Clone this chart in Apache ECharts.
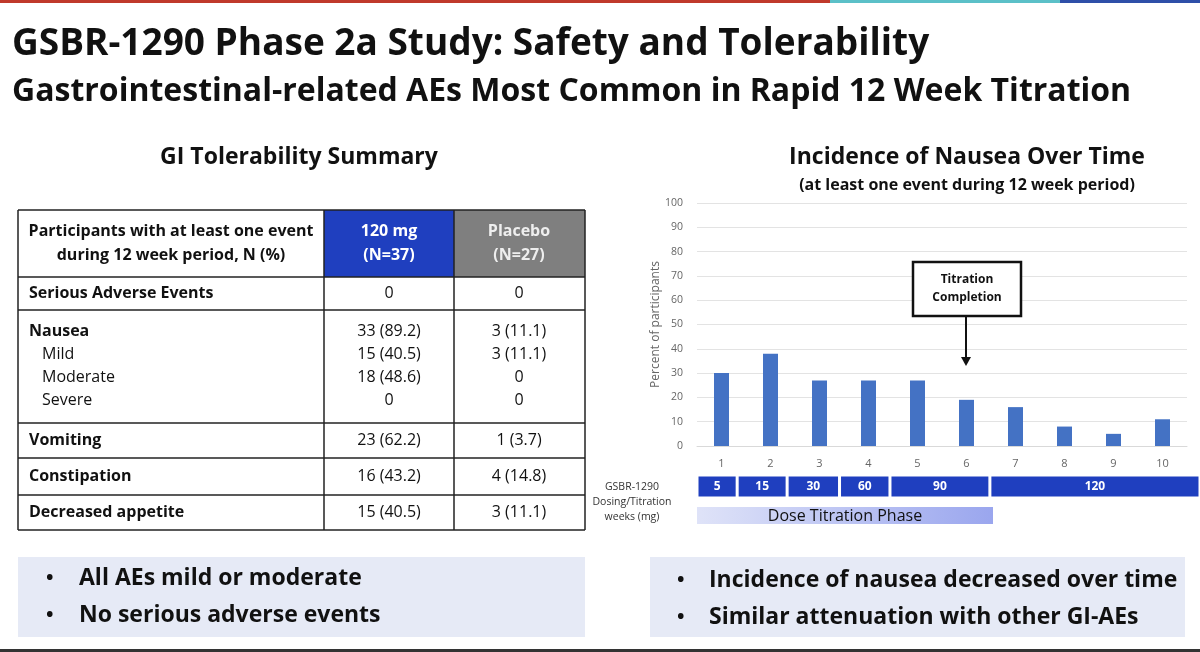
<!DOCTYPE html>
<html><head><meta charset="utf-8">
<script src="https://cdn.jsdelivr.net/npm/echarts@6/dist/echarts.min.js"></script>
<style>html,body{margin:0;padding:0;background:#fff}#c{width:1200px;height:652px}</style>
</head><body><div id="c"></div>
<script>
const weeks = ['1','2','3','4','5','6','7','8','9','10'];
const nauseaPct = [30, 38, 27, 27, 27, 19, 16, 8, 5, 11];
const yTicks = [0,10,20,30,40,50,60,70,80,90,100];
const doseLabels = ['5','15','30','60','90','120'];
const doseWeeks = [0.82, 1.02, 1.07, 1.03, 2.04, 4.29];
const tableHeader = ['Participants with at least one event\nduring 12 week period, N (%)', '120 mg\n(N=37)', 'Placebo\n(N=27)'];
const tableRows = [
  {label:'Serious Adverse Events', bold:true, a:'0', p:'0'},
  {label:'Nausea', bold:true, a:'33 (89.2)', p:'3 (11.1)'},
  {label:'Mild', bold:false, a:'15 (40.5)', p:'3 (11.1)'},
  {label:'Moderate', bold:false, a:'18 (48.6)', p:'0'},
  {label:'Severe', bold:false, a:'0', p:'0'},
  {label:'Vomiting', bold:true, a:'23 (62.2)', p:'1 (3.7)'},
  {label:'Constipation', bold:true, a:'16 (43.2)', p:'4 (14.8)'},
  {label:'Decreased appetite', bold:true, a:'15 (40.5)', p:'3 (11.1)'}
];
const leftBullets = ['All AEs mild or moderate', 'No serious adverse events'];
const rightBullets = ['Incidence of nausea decreased over time', 'Similar attenuation with other GI-AEs'];

const F = '"Open Sans", Lato, sans-serif';
const chart = echarts.init(document.getElementById('c'));
const g = [];
g.push({type:'rect',shape:{x:0,y:0,width:830,height:3},style:{fill:'#c0392b'}});
g.push({type:'rect',shape:{x:830,y:0,width:230,height:3},style:{fill:'#5bc0c8'}});
g.push({type:'rect',shape:{x:1060,y:0,width:140,height:3},style:{fill:'#2f4fa8'}});
g.push({type:'rect',shape:{x:0,y:649,width:1200,height:3},style:{fill:'#333'}});
g.push({type:'text',x:12,y:26,style:{text:'GSBR-1290 Phase 2a Study: Safety and Tolerability',font:'bold 37px '+F,fill:'#111'}});
g.push({type:'text',x:12,y:76,style:{text:'Gastrointestinal-related AEs Most Common in Rapid 12 Week Titration',font:'bold 32px '+F,fill:'#111'}});
g.push({type:'text',x:299,y:157,style:{text:'GI Tolerability Summary',font:'bold 23px '+F,fill:'#111',align:'center',verticalAlign:'middle'}});
g.push({type:'text',x:967,y:157,style:{text:'Incidence of Nausea Over Time',font:'bold 23px '+F,fill:'#111',align:'center',verticalAlign:'middle'}});
g.push({type:'text',x:967,y:185,style:{text:'(at least one event during 12 week period)',font:'bold 16px '+F,fill:'#111',align:'center',verticalAlign:'middle'}});
const cx=[18,324,454,585];
const ry=[210,277,310,423,458,495,530];
g.push({type:'rect',shape:{x:324,y:210,width:130,height:67},style:{fill:'#1f3fbf'}});
g.push({type:'rect',shape:{x:454,y:210,width:131,height:67},style:{fill:'#7f7f7f'}});
ry.forEach(y=>g.push({type:'line',shape:{x1:18,y1:y,x2:585,y2:y},style:{stroke:'#222',lineWidth:1.5}}));
cx.forEach(x=>g.push({type:'line',shape:{x1:x,y1:210,x2:x,y2:530},style:{stroke:'#222',lineWidth:1.5}}));
g.push({type:'text',x:171,y:243,style:{text:tableHeader[0],font:'bold 16px '+F,fill:'#111',align:'center',verticalAlign:'middle',lineHeight:24}});
g.push({type:'text',x:389,y:243,style:{text:tableHeader[1],font:'bold 16px '+F,fill:'#fff',align:'center',verticalAlign:'middle',lineHeight:24}});
g.push({type:'text',x:519,y:243,style:{text:tableHeader[2],font:'bold 16px '+F,fill:'#eee',align:'center',verticalAlign:'middle',lineHeight:24}});
const rowY=[293,331,354,377,400,440,476,512];
tableRows.forEach((r,i)=>{
  const ind = (i>=2&&i<=4);
  g.push({type:'text',x:ind?42:29,y:rowY[i],style:{text:r.label,font:(r.bold?'bold ':'')+'16px '+F,fill:'#111',verticalAlign:'middle'}});
  g.push({type:'text',x:389,y:rowY[i],style:{text:r.a,font:'16px '+F,fill:'#111',align:'center',verticalAlign:'middle'}});
  g.push({type:'text',x:519,y:rowY[i],style:{text:r.p,font:'16px '+F,fill:'#111',align:'center',verticalAlign:'middle'}});
});
g.push({type:'rect',shape:{x:18,y:557,width:567,height:80},style:{fill:'#e6eaf6'}});
g.push({type:'rect',shape:{x:650,y:557,width:535,height:80},style:{fill:'#e6eaf6'}});
leftBullets.forEach((t,i)=>{
  g.push({type:'text',x:46,y:578+i*37,style:{text:'•',font:'bold 20px '+F,fill:'#111',verticalAlign:'middle'}});
  g.push({type:'text',x:79,y:578+i*37,style:{text:t,font:'bold 23px '+F,fill:'#111',verticalAlign:'middle'}});
});
rightBullets.forEach((t,i)=>{
  g.push({type:'text',x:677,y:580+i*37,style:{text:'•',font:'bold 20px '+F,fill:'#111',verticalAlign:'middle'}});
  g.push({type:'text',x:709,y:580+i*37,style:{text:t,font:'bold 23px '+F,fill:'#111',verticalAlign:'middle'}});
});
['GSBR-1290','Dosing/Titration','weeks (mg)'].forEach((t,i)=>g.push({type:'text',x:632,y:487+i*15,style:{text:t,font:'10.5px '+F,fill:'#333',align:'center',verticalAlign:'middle'}}));
g.push({type:'rect',shape:{x:697,y:507,width:296,height:17},style:{fill:new echarts.graphic.LinearGradient(0,0,1,0,[{offset:0,color:'#dfe3f8'},{offset:1,color:'#9aa6ee'}])}});
g.push({type:'text',x:845,y:516,style:{text:'Dose Titration Phase',font:'16px '+F,fill:'#111',align:'center',verticalAlign:'middle'}});
g.push({type:'rect',shape:{x:913,y:262,width:108,height:54},style:{fill:'#fff',stroke:'#111',lineWidth:2.5}});
g.push({type:'text',x:967,y:289,style:{text:'Titration\nCompletion',font:'bold 12px '+F,fill:'#111',align:'center',verticalAlign:'middle',lineHeight:18}});
g.push({type:'line',shape:{x1:966,y1:316,x2:966,y2:358},style:{stroke:'#111',lineWidth:2}});
g.push({type:'polygon',shape:{points:[[961,357],[971,357],[966,366]]},style:{fill:'#111'}});
g.forEach(e=>{e.z=100;});

const doseSeries = doseLabels.map((d,i)=>({
  type:'bar', stack:'dose', xAxisIndex:1, yAxisIndex:1, barWidth:23,
  data:[doseWeeks[i]], itemStyle:{color:'#1f3fbf',borderColor:'#fff',borderWidth:1.5},
  label:{show:true,position:'inside',formatter:d,color:'#fff',fontWeight:'bold',fontSize:12,fontFamily:F},
  silent:true
}));

chart.setOption({
  animation:false,
  graphic:g,
  grid:[{left:697,top:203,width:490,height:243},{left:697,top:474,width:503,height:25}],
  xAxis:[
    {type:'category',data:weeks,gridIndex:0,axisTick:{show:false},axisLine:{lineStyle:{color:'#d9d9d9'}},axisLabel:{color:'#666',fontSize:11,margin:12,fontFamily:F}},
    {type:'value',gridIndex:1,min:0,max:10.27,show:false}
  ],
  yAxis:[
    {type:'value',gridIndex:0,min:0,max:100,interval:10,axisLabel:{color:'#666',fontSize:10.5,margin:14,fontFamily:F},splitLine:{lineStyle:{color:'#e3e3e3'}},
     name:'Percent of participants',nameLocation:'middle',nameGap:32,nameTextStyle:{color:'#666',fontSize:12,fontFamily:F}},
    {type:'category',gridIndex:1,data:['d'],show:false}
  ],
  series:[{type:'bar',data:nauseaPct,barWidth:15,itemStyle:{color:'#4472c4'},xAxisIndex:0,yAxisIndex:0}].concat(doseSeries)
});
</script></body></html>
